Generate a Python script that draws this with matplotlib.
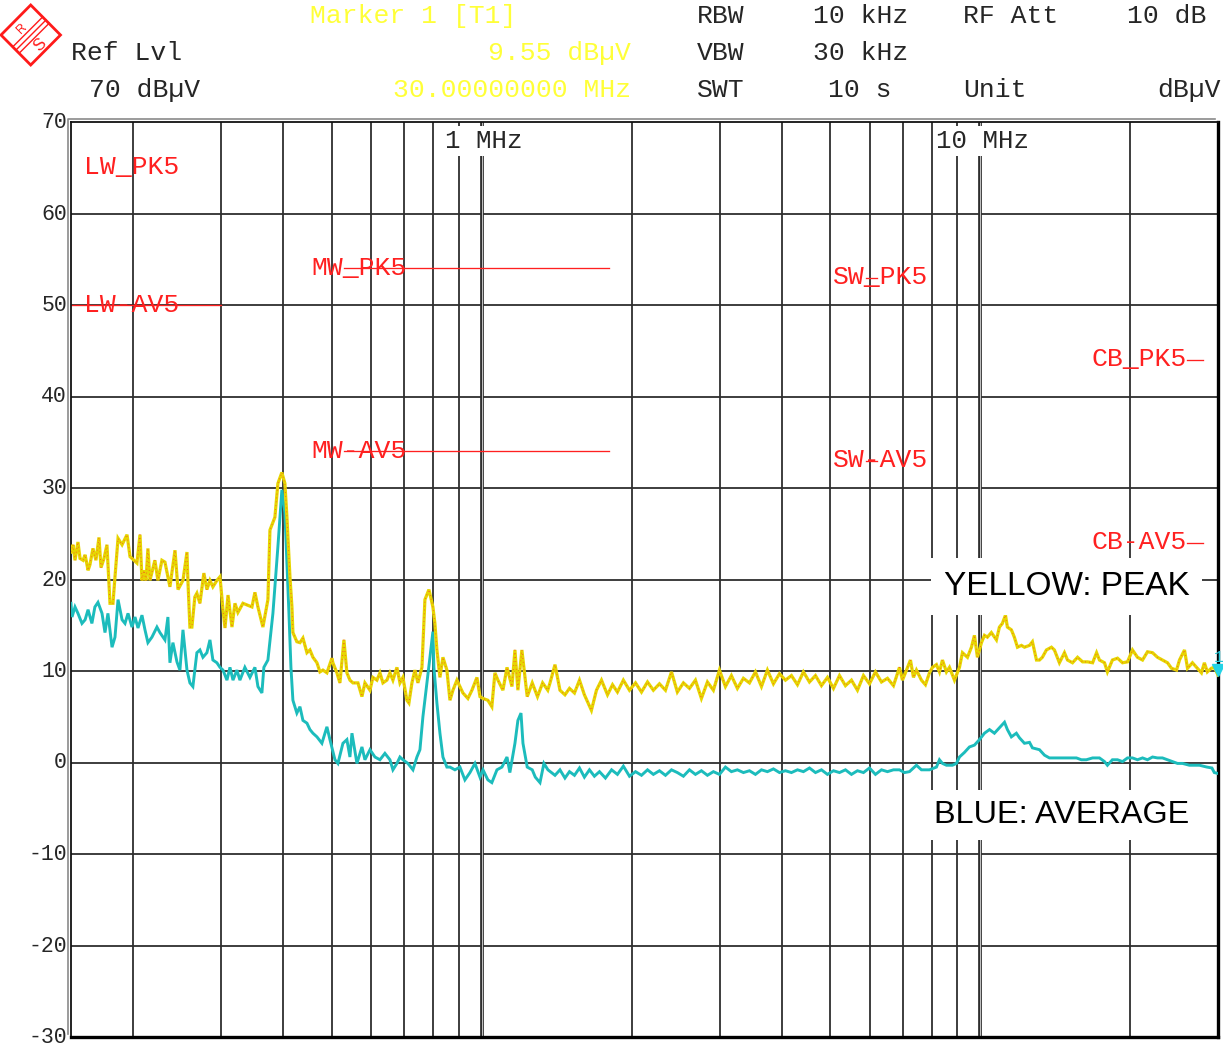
import matplotlib
matplotlib.use('Agg')
import matplotlib.pyplot as plt
import matplotlib.transforms as mtransforms
from matplotlib.patches import Polygon
from matplotlib.lines import Line2D
from matplotlib.ticker import NullLocator

# ---------------- data ----------------
F_START_MHZ, F_STOP_MHZ = 0.15, 30.0
REF_LEVEL_DBUV, MIN_LEVEL_DBUV = 70, -30

GRID_FREQ_MHZ = [0.2, 0.3, 0.4, 0.5, 0.6, 0.7, 0.8, 0.9,
                 2, 3, 4, 5, 6, 7, 8, 9, 20]
DECADE_FREQ_MHZ = [1, 10]
DECADE_LABELS = ['1 MHz', '10 MHz']
LEVEL_TICKS = [70, 60, 50, 40, 30, 20, 10, 0, -10, -20, -30]

LIMIT_NAMES = ['LW_PK5', 'LW-AV5', 'MW_PK5', 'MW-AV5',
               'SW_PK5', 'SW-AV5', 'CB_PK5', 'CB-AV5']
LIMIT_BAND = ['LW', 'LW', 'MW', 'MW', 'SW', 'SW', 'CB', 'CB']
LIMIT_F_START_MHZ = [0.15, 0.15, 0.53, 0.53, 5.9, 5.9, 26.0, 26.0]
LIMIT_F_STOP_MHZ = [0.30, 0.30, 1.8, 1.8, 6.2, 6.2, 28.0, 28.0]
LIMIT_LEVEL_DBUV = [70, 50, 54, 34, 53, 33, 44, 24]

MARKER_FREQ_MHZ = 30.0
MARKER_LEVEL_DBUV = 9.55

# Trace 1: peak detector (yellow)
PEAK_FREQ_MHZ = [
    0.150, 0.1514, 0.1528, 0.1549, 0.1564, 0.1586, 0.1601, 0.1623, 0.1637, 0.1660,
    0.1683, 0.1707, 0.1723, 0.1747, 0.1771, 0.1796, 0.1821, 0.1838, 0.1864, 0.1899,
    0.1943, 0.1970, 0.2034, 0.2063, 0.2082, 0.2101, 0.2121, 0.2140, 0.2160, 0.2210,
    0.2241, 0.2283, 0.2315, 0.2369, 0.2425, 0.2459, 0.2516, 0.2563, 0.2574, 0.2598,
    0.2622, 0.2658, 0.2683, 0.2721, 0.2771, 0.2810, 0.2850, 0.2889, 0.2943, 0.2985,
    0.3027, 0.3055, 0.3098, 0.3155, 0.3199, 0.3243, 0.3319, 0.3460, 0.3508, 0.3557,
    0.3640, 0.3725, 0.3760, 0.3847, 0.3901, 0.3973, 0.4029, 0.4067, 0.4124, 0.4162,
    0.4181, 0.4258, 0.4319, 0.4379, 0.4461, 0.4523, 0.4586, 0.4672, 0.4737, 0.4803,
    0.4892, 0.5006, 0.5029, 0.5123, 0.5195, 0.5292, 0.5365, 0.5441, 0.5517, 0.5646,
    0.5751, 0.5831, 0.5968, 0.6051, 0.6163, 0.6250, 0.6337, 0.6454, 0.6545, 0.6636,
    0.6760, 0.6855, 0.6950, 0.7079, 0.7145, 0.7245, 0.7346, 0.7448, 0.7588, 0.7693,
    0.7837, 0.7982, 0.8056, 0.8131, 0.8246, 0.8360, 0.8515, 0.8636, 0.8756, 0.8919,
    0.9044, 0.9170, 0.9383, 0.9559, 0.9783, 0.9920, 1.006, 1.029, 1.048, 1.063,
    1.078, 1.103, 1.124, 1.150, 1.166, 1.182, 1.204, 1.234, 1.263, 1.294,
    1.325, 1.357, 1.371, 1.403, 1.4355, 1.469, 1.500, 1.535, 1.571, 1.607,
    1.660, 1.699, 1.739, 1.788, 1.830, 1.872, 1.924, 1.979, 2.035, 2.092,
    2.151, 2.210, 2.273, 2.337, 2.403, 2.469, 2.539, 2.611, 2.684, 2.759,
    2.837, 2.916, 2.999, 3.083, 3.169, 3.258, 3.350, 3.445, 3.541, 3.641,
    3.743, 3.848, 3.957, 4.068, 4.182, 4.300, 4.420, 4.545, 4.673, 4.804,
    4.939, 5.078, 5.221, 5.367, 5.518, 5.673, 5.833, 5.997, 6.165, 6.339,
    6.517, 6.700, 6.888, 6.984, 7.080, 7.247, 7.348, 7.450, 7.624, 7.766,
    7.912, 8.022, 8.171, 8.286, 8.401, 8.557, 8.677, 8.880, 9.088, 9.214,
    9.430, 9.605, 9.739, 9.874, 10.06, 10.20, 10.34, 10.53, 10.78, 10.93,
    11.08, 11.24, 11.34, 11.55, 11.71, 11.88, 12.10, 12.27, 12.56, 12.73,
    12.97, 13.15, 13.33, 13.58, 13.90, 14.09, 14.42, 14.76, 14.97, 15.32,
    15.68, 16.05, 16.42, 16.81, 17.12, 17.35, 17.76, 18.00, 18.42, 18.86,
    19.30, 19.75, 20.21, 20.68, 21.17, 21.66, 22.17, 22.68, 23.21, 23.76,
    24.20, 24.77, 25.11, 25.70, 26.06, 26.66, 27.28, 27.79, 28.17, 28.56,
    29.09, 29.49, 30.0]
PEAK_LEVEL_DBUV = [
    23.0, 23.8, 22.1, 24.1, 22.3, 22.1, 22.7, 21.0, 21.6, 23.4,
    22.1, 24.6, 21.3, 22.3, 23.8, 17.4, 17.4, 20.3, 24.5, 23.8,
    24.9, 22.5, 21.8, 24.9, 19.9, 21.0, 19.9, 23.4, 19.9, 22.1,
    19.9, 22.1, 21.9, 19.2, 23.2, 18.9, 19.9, 23.0, 19.9, 14.8,
    14.8, 18.1, 18.5, 17.4, 20.7, 18.9, 19.9, 19.2, 19.9, 20.3,
    16.7, 14.7, 18.3, 14.8, 17.4, 16.4, 17.4, 17.0, 18.6, 17.0,
    14.8, 17.8, 25.4, 26.8, 30.5, 31.7, 30.5, 26.8, 20.3, 17.0,
    14.2, 13.2, 13.1, 13.6, 12.0, 12.3, 11.5, 10.9, 9.9, 10.1,
    9.8, 11.4, 10.9, 9.8, 8.7, 13.4, 9.8, 9.0, 8.7, 8.7,
    7.2, 8.7, 7.9, 9.3, 9.0, 9.8, 8.7, 9.0, 9.8, 9.0,
    10.4, 8.7, 9.3, 6.8, 6.5, 8.7, 10.1, 8.7, 10.4, 17.8,
    18.9, 17.0, 15.2, 12.3, 9.3, 11.5, 10.1, 6.8, 7.9, 9.0,
    8.3, 7.6, 7.0, 7.9, 9.3, 7.2, 7.0, 6.8, 6.1, 9.8,
    9.0, 7.9, 10.4, 8.3, 12.3, 7.9, 12.3, 7.2, 8.7, 7.2,
    8.7, 7.9, 8.7, 10.7, 7.9, 7.4, 8.1, 7.6, 9.0, 7.4,
    5.7, 7.9, 9.0, 7.4, 8.5, 7.7, 9.0, 7.9, 8.7, 7.7,
    8.8, 7.9, 8.6, 7.9, 9.9, 7.7, 8.7, 8.1, 9.0, 7.0,
    8.8, 7.9, 10.1, 8.3, 9.5, 8.1, 9.2, 8.7, 9.9, 8.3,
    10.1, 8.6, 9.7, 9.0, 9.5, 8.5, 9.9, 8.8, 9.5, 8.4,
    9.3, 8.1, 9.5, 8.4, 9.0, 7.9, 9.5, 8.6, 9.9, 8.8,
    9.2, 8.4, 10.4, 9.0, 9.8, 11.2, 9.3, 10.1, 9.0, 8.5,
    9.8, 10.4, 10.7, 9.9, 11.2, 9.9, 10.4, 9.0, 10.4, 12.0,
    11.5, 12.6, 13.9, 11.5, 13.1, 13.9, 13.7, 14.2, 13.4, 14.8,
    15.2, 16.1, 14.8, 14.5, 13.7, 12.6, 12.8, 12.6, 12.8, 13.2,
    11.2, 11.2, 11.5, 12.3, 12.6, 12.3, 10.9, 12.0, 11.2, 10.9,
    11.5, 11.0, 11.0, 10.9, 12.0, 11.2, 10.9, 9.9, 11.2, 11.4,
    10.9, 11.0, 12.3, 11.5, 11.2, 12.1, 12.0, 11.5, 11.2, 10.9,
    10.3, 10.1, 11.2, 12.3, 10.3, 10.9, 10.3, 9.8, 10.9, 9.9,
    10.3, 10.4, 9.55]

# Trace 2: average detector (blue)
AVG_FREQ_MHZ = [
    0.150, 0.1507, 0.1528, 0.1549, 0.1578, 0.1601, 0.1623, 0.1652, 0.1675, 0.1699,
    0.1731, 0.1755, 0.1779, 0.1813, 0.1838, 0.1864, 0.1899, 0.1925, 0.1952, 0.1988,
    0.2016, 0.2044, 0.2082, 0.2111, 0.2140, 0.2180, 0.2231, 0.2262, 0.2315, 0.2347,
    0.2369, 0.2402, 0.2447, 0.2481, 0.2516, 0.2563, 0.2598, 0.2634, 0.2683, 0.2721,
    0.2759, 0.2810, 0.2850, 0.2889, 0.2943, 0.2985, 0.3027, 0.3083, 0.3126, 0.3170,
    0.3228, 0.3273, 0.3349, 0.3428, 0.3508, 0.3557, 0.3623, 0.3656, 0.3725, 0.3812,
    0.3901, 0.3973, 0.4029, 0.4105, 0.4143, 0.4181, 0.4258, 0.4319, 0.4379, 0.4461,
    0.4523, 0.4586, 0.4672, 0.4780, 0.4892, 0.4961, 0.5077, 0.5147, 0.5268, 0.5365,
    0.5441, 0.5492, 0.5620, 0.5751, 0.5831, 0.5968, 0.6107, 0.6250, 0.6395, 0.6545,
    0.6636, 0.6760, 0.6855, 0.6950, 0.7112, 0.7279, 0.7414, 0.7518, 0.7622, 0.7765,
    0.7874, 0.7982, 0.8019, 0.8131, 0.8246, 0.8360, 0.8515, 0.8636, 0.8837, 0.9044,
    0.9254, 0.9472, 0.9693, 0.9920, 1.006, 1.029, 1.048, 1.073, 1.098, 1.124,
    1.139, 1.166, 1.182, 1.199, 1.210, 1.234, 1.263, 1.281, 1.309, 1.333,
    1.358, 1.403, 1.4355, 1.469, 1.500, 1.535, 1.571, 1.607, 1.645, 1.683,
    1.723, 1.771, 1.822, 1.872, 1.924, 1.979, 2.035, 2.092, 2.151, 2.210,
    2.273, 2.337, 2.403, 2.469, 2.539, 2.611, 2.684, 2.759, 2.837, 2.916,
    2.999, 3.083, 3.169, 3.258, 3.350, 3.445, 3.541, 3.641, 3.743, 3.848,
    3.957, 4.068, 4.182, 4.300, 4.420, 4.545, 4.673, 4.804, 4.939, 5.078,
    5.221, 5.367, 5.518, 5.673, 5.833, 5.997, 6.165, 6.339, 6.517, 6.700,
    6.888, 7.050, 7.214, 7.383, 7.450, 7.624, 7.912, 8.171, 8.286, 8.401,
    8.557, 8.797, 8.962, 9.088, 9.299, 9.517, 9.739, 9.967, 10.20, 10.44,
    10.68, 10.93, 11.19, 11.34, 11.55, 11.82, 11.99, 12.27, 12.56, 12.73,
    13.15, 13.46, 13.77, 14.22, 14.89, 15.60, 15.96, 16.33, 16.81, 17.35,
    17.76, 18.00, 18.42, 18.86, 19.30, 19.75, 20.21, 20.68, 21.17, 21.66,
    22.17, 22.68, 23.21, 23.76, 24.31, 24.88, 25.46, 26.29, 27.54, 28.50,
    29.17, 29.49, 30.0]
AVG_LEVEL_DBUV = [
    17.4, 15.9, 17.0, 16.3, 15.2, 15.6, 16.7, 15.2, 17.0, 17.5,
    16.3, 14.2, 16.3, 12.6, 13.7, 17.8, 15.6, 15.2, 16.3, 14.8,
    15.9, 14.7, 16.1, 14.5, 13.1, 13.7, 14.8, 14.2, 13.4, 15.9,
    10.9, 13.1, 11.0, 10.1, 14.5, 10.1, 8.7, 8.3, 12.0, 12.3,
    11.5, 12.0, 13.4, 11.2, 10.9, 10.4, 10.1, 9.0, 10.4, 9.0,
    10.1, 9.0, 10.4, 9.3, 10.4, 8.3, 7.6, 10.4, 11.2, 16.3,
    23.6, 29.8, 27.3, 16.3, 10.4, 6.8, 5.4, 6.1, 4.6, 4.3,
    3.6, 3.2, 2.8, 2.1, 3.9, 2.5, 0.3, -0.1, 2.1, 2.5,
    0.6, 3.2, -0.1, 1.7, 0.3, 1.4, 0.6, 0.3, 1.0, 0.3,
    -0.8, -0.1, 0.6, 0.3, -0.1, -0.8, 0.6, 1.4, 5.0, 8.7,
    11.5, 14.3, 10.4, 6.5, 3.2, 0.6, -0.5, -0.5, -0.8, -0.5,
    -1.9, -1.1, -0.1, -1.6, -0.8, -1.9, -2.2, -0.8, -0.5, 0.6,
    -1.1, 2.1, 4.6, 5.4, 2.1, -0.5, -0.8, -1.6, -2.2, -0.1,
    -0.8, -1.4, -0.8, -1.7, -1.0, -1.4, -0.6, -1.6, -0.8, -1.5,
    -1.0, -1.7, -0.8, -1.3, -0.4, -1.5, -1.0, -1.4, -0.8, -1.3,
    -0.9, -1.4, -0.8, -1.1, -1.5, -0.8, -1.3, -0.9, -1.4, -1.0,
    -1.3, -0.5, -1.0, -0.8, -1.1, -0.9, -1.3, -0.8, -1.0, -0.7,
    -1.1, -0.9, -1.1, -0.8, -1.0, -0.6, -1.1, -0.8, -1.3, -0.9,
    -1.1, -0.8, -1.3, -0.9, -1.1, -0.6, -1.3, -0.8, -1.0, -0.8,
    -0.8, -1.1, -1.0, -0.5, -0.3, -0.8, -0.8, -0.5, 0.3, -0.1,
    -0.3, -0.3, -0.1, 0.6, 1.1, 1.7, 1.9, 2.5, 3.2, 3.6,
    3.2, 3.8, 4.4, 3.6, 2.8, 3.2, 2.7, 2.1, 2.2, 1.6,
    1.4, 0.8, 0.5, 0.5, 0.5, 0.5, 0.3, 0.3, 0.5, 0.5,
    0.1, -0.3, 0.3, 0.3, 0.1, 0.5, 0.5, 0.3, 0.5, 0.3,
    0.6, 0.5, 0.5, 0.3, 0.1, -0.1, -0.1, -0.3, -0.3, -0.5,
    -0.6, -1.1, -1.2]

HEADER_TEXT = [
    ('Marker 1 [T1]', 'marker'), ('RBW', 'plain'), ('10 kHz', 'plain'),
    ('RF Att', 'plain'), ('10 dB', 'plain'),
    ('Ref Lvl', 'plain'), ('9.55 dBµV', 'marker'), ('VBW', 'plain'),
    ('30 kHz', 'plain'),
    ('70 dBµV', 'plain'), ('30.00000000 MHz', 'marker'), ('SWT', 'plain'),
    ('10 s', 'plain'), ('Unit', 'plain'), ('dBµV', 'plain'),
]

# ---------------- layout / style ----------------
W, H, DPI = 1223, 1050, 100
MONO = 'Liberation Mono'
SANS = 'Liberation Sans'
GRID_C = '#2e2e2e'
RED = '#ff2020'
MARKER_YELLOW = '#ffff38'
TEXT_C = '#262626'
PEAK_C = '#e6d600'
PEAK_DOT_C = '#ff3a2a'
AVG_C = '#1cbcbc'

fig = plt.figure(figsize=(W / DPI, H / DPI), dpi=DPI)
fig.patch.set_facecolor('white')

AX_L, AX_R, AX_T, AX_B = 71, 1218, 122, 1037
ax = fig.add_axes([AX_L / W, 1 - AX_B / H, (AX_R - AX_L) / W, (AX_B - AX_T) / H])
ax.set_xscale('log')
ax.set_xlim(F_START_MHZ, F_STOP_MHZ)
ax.set_ylim(MIN_LEVEL_DBUV, REF_LEVEL_DBUV)
ax.xaxis.set_major_locator(NullLocator())
ax.xaxis.set_minor_locator(NullLocator())
ax.yaxis.set_major_locator(NullLocator())
ax.yaxis.set_minor_locator(NullLocator())
ax.set_facecolor('white')


def shifted(tr, dx=0.0, dy=0.0):
    return mtransforms.offset_copy(tr, fig=fig, x=dx, y=dy, units='dots')


def fxy(x, y):
    return x / W, 1 - y / H


# frame
for side in ('top', 'left'):
    ax.spines[side].set_linewidth(1.3)
    ax.spines[side].set_color('#111111')
for side in ('bottom', 'right'):
    ax.spines[side].set_linewidth(2.4)
    ax.spines[side].set_color('#000000')
outer = Line2D([0, 0, 1], [0, 1, 1], transform=shifted(ax.transAxes, -3, 3),
               color='#8a8a8a', lw=1.2, clip_on=False)
ax.add_line(outer)

# grid
for f in GRID_FREQ_MHZ:
    ax.axvline(f, color=GRID_C, lw=1.3, zorder=1)
for f in DECADE_FREQ_MHZ:
    ax.axvline(f, color=GRID_C, lw=2.7, zorder=1)
    ax.axvline(f, color='white', lw=0.5, zorder=1.1)
for lvl in LEVEL_TICKS[1:-1]:
    ax.axhline(lvl, color=GRID_C, lw=1.3, zorder=1)

# decade labels with white background (interrupting the grid)
for f, lab in zip(DECADE_FREQ_MHZ, DECADE_LABELS):
    ax.text(f, REF_LEVEL_DBUV, lab, family=MONO, fontsize=18.5, color=TEXT_C,
            ha='center', va='baseline',
            transform=shifted(ax.transData, 2, -26), zorder=2,
            bbox=dict(boxstyle='square,pad=0.12', fc='white', ec='none'))

# level labels
ytr = mtransforms.blended_transform_factory(ax.transAxes, ax.transData)
for lvl in LEVEL_TICKS:
    ax.text(0, lvl, f'{lvl}', family=MONO, fontsize=15.5, color=TEXT_C,
            ha='right', va='baseline', transform=shifted(ytr, -4, -6),
            clip_on=False)

# limit lines and their labels
label_dx = {'LW': 13, 'MW': -33, 'SW': -33, 'CB': 0}
for name, band, f0, f1, lvl in zip(LIMIT_NAMES, LIMIT_BAND, LIMIT_F_START_MHZ,
                                   LIMIT_F_STOP_MHZ, LIMIT_LEVEL_DBUV):
    if lvl < REF_LEVEL_DBUV:
        ax.plot([f0, f1], [lvl, lvl], color=RED, lw=0.95, zorder=2)
        dy = -6.5
    else:
        dy = -52
    ha = 'right' if band == 'CB' else 'left'
    ax.text(f0, lvl, name, family=MONO, fontsize=19, color=RED, ha=ha,
            va='baseline', transform=shifted(ax.transData, label_dx[band], dy),
            zorder=2)

# traces
ax.plot(AVG_FREQ_MHZ, AVG_LEVEL_DBUV, color=AVG_C, lw=2.1, zorder=3,
        solid_joinstyle='miter')
ax.plot(PEAK_FREQ_MHZ, PEAK_LEVEL_DBUV, color=PEAK_C, lw=2.3, zorder=4,
        solid_joinstyle='miter')
ax.plot(PEAK_FREQ_MHZ, PEAK_LEVEL_DBUV, color=PEAK_DOT_C, lw=0.7,
        ls=(0, (0.8, 3.2)), zorder=5, alpha=0.85)

# marker 1
ax.plot([MARKER_FREQ_MHZ], [MARKER_LEVEL_DBUV], marker='v', ms=9, color='#22d3e6',
        transform=shifted(ax.transData, 0, 5), clip_on=False, zorder=6)
ax.text(MARKER_FREQ_MHZ, MARKER_LEVEL_DBUV, '1', family=MONO, fontsize=12,
        color='#22c6d6', ha='center', va='baseline',
        transform=shifted(ax.transData, 1, 13), clip_on=False, zorder=6)

# annotation boxes
fig.text(*fxy(944, 595), 'YELLOW: PEAK', family=SANS, fontsize=24, color='black',
         ha='left', va='baseline', zorder=10,
         bbox=dict(boxstyle='square,pad=0.38', fc='white', ec='none'))
fig.text(*fxy(934, 823), 'BLUE: AVERAGE', family=SANS, fontsize=23.3, color='black',
         ha='left', va='baseline', zorder=10,
         bbox=dict(boxstyle='square,pad=0.3', fc='white', ec='none'))

# header block
header_pos = [
    (310, 23, 'left'), (697, 23, 'left'), (813, 23, 'left'), (963, 23, 'left'),
    (1206, 23, 'right'),
    (71, 60, 'left'), (631, 60, 'right'), (697, 60, 'left'), (813, 60, 'left'),
    (89, 97, 'left'), (631, 97, 'right'), (697, 97, 'left'), (828, 97, 'left'),
    (963, 97, 'left'), (1221, 97, 'right'),
]
for (txt, kind), (x, y, ha) in zip(HEADER_TEXT, header_pos):
    fig.text(*fxy(x, y), txt, family=MONO, fontsize=19,
             color=MARKER_YELLOW if kind == 'marker' else TEXT_C,
             ha=ha, va='baseline')

# R&S logo
logo_c = '#ff1a1a'
diamond = Polygon([fxy(30.7, 5), fxy(60.5, 35), fxy(30.7, 65), fxy(1.0, 35)],
                  closed=True, fill=False, ec=logo_c, lw=2.0,
                  transform=fig.transFigure)
fig.add_artist(diamond)
for d in (-3.2, 0.0, 3.2):
    fig.add_artist(Line2D([fxy(16 + d, 50 + d)[0], fxy(46 + d, 20 + d)[0]],
                          [fxy(16 + d, 50 + d)[1], fxy(46 + d, 20 + d)[1]],
                          transform=fig.transFigure, color=logo_c, lw=1.0))
fig.text(*fxy(22, 29), 'R', family=SANS, fontsize=9, color=logo_c,
         rotation=45, ha='center', va='center')
fig.text(*fxy(40, 45), 'S', family=SANS, fontsize=12, color=logo_c,
         rotation=45, ha='center', va='center')

fig.savefig('out.png', dpi=DPI, facecolor='white')
